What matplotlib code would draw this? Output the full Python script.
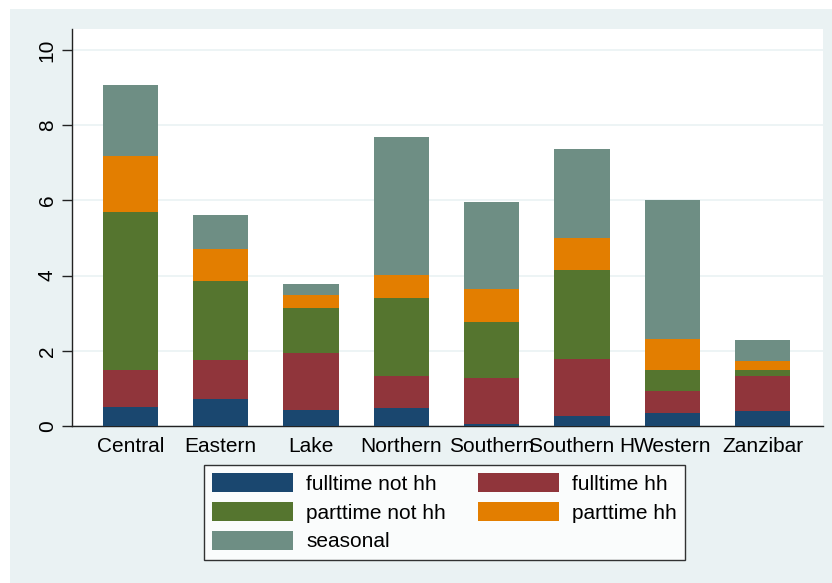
import numpy as np
import matplotlib.pyplot as plt
from matplotlib.patches import Rectangle, Patch

regions = ['Central', 'Eastern', 'Lake', 'Northern', 'Southern',
           'Southern H', 'Western', 'Zanzibar']
fulltime_not_hh = [0.50, 0.72, 0.43, 0.49, 0.06, 0.27, 0.34, 0.40]
fulltime_hh = [0.99, 1.04, 1.51, 0.85, 1.23, 1.51, 0.58, 0.93]
parttime_not_hh = [4.20, 2.10, 1.21, 2.07, 1.48, 2.38, 0.58, 0.17]
parttime_hh = [1.50, 0.84, 0.33, 0.61, 0.87, 0.85, 0.81, 0.22]
seasonal = [1.88, 0.91, 0.30, 3.68, 2.33, 2.37, 3.71, 0.56]

series = [fulltime_not_hh, fulltime_hh, parttime_not_hh, parttime_hh, seasonal]
labels = ['fulltime not hh', 'fulltime hh', 'parttime not hh',
          'parttime hh', 'seasonal']
colors = ['#1A476F', '#90353B', '#55752F', '#E37E00', '#6E8E84']
bg = '#EAF2F3'

plt.rcParams['font.family'] = ['Liberation Sans', 'DejaVu Sans']

fig = plt.figure(figsize=(8.32, 5.83), dpi=100, facecolor='white')
fig.patches.append(Rectangle((10 / 832, 0), 1, (583 - 9) / 583,
                             transform=fig.transFigure, facecolor=bg,
                             edgecolor='none', zorder=-10))

ax = fig.add_axes([72 / 832, (583 - 426) / 583, (823 - 72) / 832,
                   (426 - 29) / 583])
ax.set_facecolor('white')

x = np.arange(len(regions))
bottom = np.zeros(len(regions))
handles = []
for vals, lab, col in zip(series, labels, colors):
    ax.bar(x, vals, width=0.612, bottom=bottom, color=col, label=lab,
           linewidth=0, zorder=3)
    bottom += np.array(vals)
    handles.append(Patch(facecolor=col, edgecolor='none', label=lab))

ax.set_xlim(-0.646, 7.67)
ax.set_ylim(0, 10.56)
ax.set_yticks(range(0, 11, 2))
ax.set_xticks(x)
ax.set_xticklabels(regions, fontsize=15)
ax.tick_params(axis='x', length=0, pad=8)
ax.tick_params(axis='y', length=7, width=1, labelsize=15, pad=4,
               labelrotation=90, color='#222222')
for t in ax.get_yticklabels():
    t.set_va('center')
ax.yaxis.grid(True, color=bg, linewidth=1.2, zorder=0)
ax.set_axisbelow(True)
for s in ['top', 'right']:
    ax.spines[s].set_visible(False)
for s in ['left', 'bottom']:
    ax.spines[s].set_color('#222222')
    ax.spines[s].set_linewidth(1)

order = [0, 2, 4, 1, 3]
leg = fig.legend([handles[i] for i in order], [labels[i] for i in order],
                 ncol=2, loc='upper left', bbox_to_anchor=(204 / 832, (583 - 465) / 583),
                 fontsize=15, frameon=True, fancybox=False, edgecolor='black',
                 handlelength=3.85, handleheight=1.0, handletextpad=0.66,
                 columnspacing=1.55, labelspacing=0.4, borderpad=0.4,
                 borderaxespad=0)
leg.get_frame().set_linewidth(1)

fig.savefig('out.png', dpi=100, facecolor='white')
